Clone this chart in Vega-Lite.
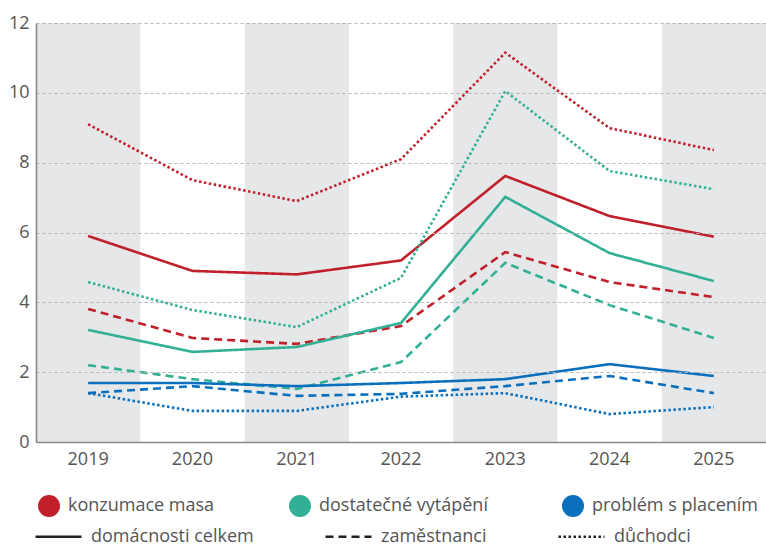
{
  "$schema": "https://vega.github.io/schema/vega-lite/v6.json",
  "autosize": "none",
  "width": 730,
  "height": 419,
  "padding": {"left": 36, "top": 23, "right": 0, "bottom": 104},
  "background": "white",
  "config": {
    "font": "Open Sans",
    "view": {"stroke": null},
    "axis": {"labelFont": "Open Sans", "labelColor": "#555555", "labelFontSize": 18, "ticks": false, "title": null, "domainColor": "#8a8a8a", "domainWidth": 1.6},
    "legend": {"labelFont": "Open Sans", "labelColor": "#555555", "labelFontSize": 18, "labelLimit": 400}
  },
  "datasets": {
    "years": [
      {"year": "2019"}, {"year": "2020"}, {"year": "2021"}, {"year": "2022"},
      {"year": "2023"}, {"year": "2024"}, {"year": "2025"}
    ],
    "series": [
      {"year": "2019", "ukazatel": "konzumace masa", "skupina": "domácnosti celkem", "value": 5.9},
      {"year": "2020", "ukazatel": "konzumace masa", "skupina": "domácnosti celkem", "value": 4.9},
      {"year": "2021", "ukazatel": "konzumace masa", "skupina": "domácnosti celkem", "value": 4.8},
      {"year": "2022", "ukazatel": "konzumace masa", "skupina": "domácnosti celkem", "value": 5.2},
      {"year": "2023", "ukazatel": "konzumace masa", "skupina": "domácnosti celkem", "value": 7.62},
      {"year": "2024", "ukazatel": "konzumace masa", "skupina": "domácnosti celkem", "value": 6.47},
      {"year": "2025", "ukazatel": "konzumace masa", "skupina": "domácnosti celkem", "value": 5.88},
      {"year": "2019", "ukazatel": "konzumace masa", "skupina": "zaměstnanci", "value": 3.81},
      {"year": "2020", "ukazatel": "konzumace masa", "skupina": "zaměstnanci", "value": 2.98},
      {"year": "2021", "ukazatel": "konzumace masa", "skupina": "zaměstnanci", "value": 2.81},
      {"year": "2022", "ukazatel": "konzumace masa", "skupina": "zaměstnanci", "value": 3.32},
      {"year": "2023", "ukazatel": "konzumace masa", "skupina": "zaměstnanci", "value": 5.44},
      {"year": "2024", "ukazatel": "konzumace masa", "skupina": "zaměstnanci", "value": 4.58},
      {"year": "2025", "ukazatel": "konzumace masa", "skupina": "zaměstnanci", "value": 4.15},
      {"year": "2019", "ukazatel": "konzumace masa", "skupina": "důchodci", "value": 9.1},
      {"year": "2020", "ukazatel": "konzumace masa", "skupina": "důchodci", "value": 7.5},
      {"year": "2021", "ukazatel": "konzumace masa", "skupina": "důchodci", "value": 6.9},
      {"year": "2022", "ukazatel": "konzumace masa", "skupina": "důchodci", "value": 8.1},
      {"year": "2023", "ukazatel": "konzumace masa", "skupina": "důchodci", "value": 11.15},
      {"year": "2024", "ukazatel": "konzumace masa", "skupina": "důchodci", "value": 8.99},
      {"year": "2025", "ukazatel": "konzumace masa", "skupina": "důchodci", "value": 8.36},
      {"year": "2019", "ukazatel": "dostatečné vytápění", "skupina": "domácnosti celkem", "value": 3.21},
      {"year": "2020", "ukazatel": "dostatečné vytápění", "skupina": "domácnosti celkem", "value": 2.58},
      {"year": "2021", "ukazatel": "dostatečné vytápění", "skupina": "domácnosti celkem", "value": 2.72},
      {"year": "2022", "ukazatel": "dostatečné vytápění", "skupina": "domácnosti celkem", "value": 3.41},
      {"year": "2023", "ukazatel": "dostatečné vytápění", "skupina": "domácnosti celkem", "value": 7.02},
      {"year": "2024", "ukazatel": "dostatečné vytápění", "skupina": "domácnosti celkem", "value": 5.41},
      {"year": "2025", "ukazatel": "dostatečné vytápění", "skupina": "domácnosti celkem", "value": 4.61},
      {"year": "2019", "ukazatel": "dostatečné vytápění", "skupina": "zaměstnanci", "value": 2.2},
      {"year": "2020", "ukazatel": "dostatečné vytápění", "skupina": "zaměstnanci", "value": 1.8},
      {"year": "2021", "ukazatel": "dostatečné vytápění", "skupina": "zaměstnanci", "value": 1.52},
      {"year": "2022", "ukazatel": "dostatečné vytápění", "skupina": "zaměstnanci", "value": 2.29},
      {"year": "2023", "ukazatel": "dostatečné vytápění", "skupina": "zaměstnanci", "value": 5.13},
      {"year": "2024", "ukazatel": "dostatečné vytápění", "skupina": "zaměstnanci", "value": 3.92},
      {"year": "2025", "ukazatel": "dostatečné vytápění", "skupina": "zaměstnanci", "value": 2.98},
      {"year": "2019", "ukazatel": "dostatečné vytápění", "skupina": "důchodci", "value": 4.58},
      {"year": "2020", "ukazatel": "dostatečné vytápění", "skupina": "důchodci", "value": 3.78},
      {"year": "2021", "ukazatel": "dostatečné vytápění", "skupina": "důchodci", "value": 3.29},
      {"year": "2022", "ukazatel": "dostatečné vytápění", "skupina": "důchodci", "value": 4.7},
      {"year": "2023", "ukazatel": "dostatečné vytápění", "skupina": "důchodci", "value": 10.05},
      {"year": "2024", "ukazatel": "dostatečné vytápění", "skupina": "důchodci", "value": 7.76},
      {"year": "2025", "ukazatel": "dostatečné vytápění", "skupina": "důchodci", "value": 7.24},
      {"year": "2019", "ukazatel": "problém s placením", "skupina": "domácnosti celkem", "value": 1.69},
      {"year": "2020", "ukazatel": "problém s placením", "skupina": "domácnosti celkem", "value": 1.69},
      {"year": "2021", "ukazatel": "problém s placením", "skupina": "domácnosti celkem", "value": 1.6},
      {"year": "2022", "ukazatel": "problém s placením", "skupina": "domácnosti celkem", "value": 1.69},
      {"year": "2023", "ukazatel": "problém s placením", "skupina": "domácnosti celkem", "value": 1.8},
      {"year": "2024", "ukazatel": "problém s placením", "skupina": "domácnosti celkem", "value": 2.23},
      {"year": "2025", "ukazatel": "problém s placením", "skupina": "domácnosti celkem", "value": 1.89},
      {"year": "2019", "ukazatel": "problém s placením", "skupina": "zaměstnanci", "value": 1.4},
      {"year": "2020", "ukazatel": "problém s placením", "skupina": "zaměstnanci", "value": 1.6},
      {"year": "2021", "ukazatel": "problém s placením", "skupina": "zaměstnanci", "value": 1.32},
      {"year": "2022", "ukazatel": "problém s placením", "skupina": "zaměstnanci", "value": 1.38},
      {"year": "2023", "ukazatel": "problém s placením", "skupina": "zaměstnanci", "value": 1.6},
      {"year": "2024", "ukazatel": "problém s placením", "skupina": "zaměstnanci", "value": 1.89},
      {"year": "2025", "ukazatel": "problém s placením", "skupina": "zaměstnanci", "value": 1.4},
      {"year": "2019", "ukazatel": "problém s placením", "skupina": "důchodci", "value": 1.4},
      {"year": "2020", "ukazatel": "problém s placením", "skupina": "důchodci", "value": 0.89},
      {"year": "2021", "ukazatel": "problém s placením", "skupina": "důchodci", "value": 0.89},
      {"year": "2022", "ukazatel": "problém s placením", "skupina": "důchodci", "value": 1.3},
      {"year": "2023", "ukazatel": "problém s placením", "skupina": "důchodci", "value": 1.4},
      {"year": "2024", "ukazatel": "problém s placením", "skupina": "důchodci", "value": 0.8},
      {"year": "2025", "ukazatel": "problém s placením", "skupina": "důchodci", "value": 1.0}
    ]
  },
  "layer": [
    {
      "data": {"name": "years"},
      "transform": [{"filter": {"field": "year", "oneOf": ["2019", "2021", "2023", "2025"]}}],
      "mark": {"type": "rect", "color": "#e6e7e9"},
      "encoding": {
        "x": {"field": "year", "type": "ordinal", "axis": {"labelAngle": 0, "labelPadding": 8, "domainColor": "#8a8a8a"}},
        "y": {"datum": 0, "type": "quantitative", "scale": {"domain": [0, 12]},
              "axis": {"values": [0, 2, 4, 6, 8, 10, 12], "grid": true, "gridDash": [3, 3], "gridColor": "#b5b5b5", "gridWidth": 1, "labelPadding": 7, "zindex": 1}},
        "y2": {"datum": 12}
      }
    },
    {
      "data": {"name": "series"},
      "mark": {"type": "line", "strokeWidth": 2.6, "strokeCap": "butt", "interpolate": "linear"},
      "encoding": {
        "x": {"field": "year", "type": "ordinal", "bandPosition": 0.5},
        "y": {"field": "value", "type": "quantitative"},
        "color": {
          "field": "ukazatel", "type": "nominal",
          "scale": {"domain": ["konzumace masa", "dostatečné vytápění", "problém s placením"], "range": ["#c1202b", "#32b095", "#0a70bd"]},
          "legend": {
            "orient": "none", "legendX": 2, "legendY": 472, "direction": "horizontal", "title": null,
            "symbolType": "circle", "symbolSize": 484, "symbolOpacity": 1,
            "labelOffset": 8, "columnPadding": 74, "labelLimit": 400,
            "encode": {"symbols": {"update": {"fill": {"scale": "color", "field": "value"}, "strokeWidth": {"value": 0}}}}
          }
        },
        "strokeDash": {
          "field": "skupina", "type": "nominal",
          "scale": {"domain": ["domácnosti celkem", "zaměstnanci", "důchodci"], "range": [[1, 0], [8, 5], [2.5, 2.5]]},
          "legend": {
            "orient": "none", "legendX": -2, "legendY": 489, "direction": "horizontal", "title": null,
            "symbolType": "stroke", "symbolSize": 2116, "symbolStrokeColor": "#222222", "symbolStrokeWidth": 2.5,
            "labelOffset": 8, "columnPadding": 66, "labelLimit": 400,
            "encode": {"symbols": {"update": {"stroke": {"value": "#222222"}, "strokeWidth": {"value": 2.5}}}}
          }
        }
      }
    }
  ]
}
